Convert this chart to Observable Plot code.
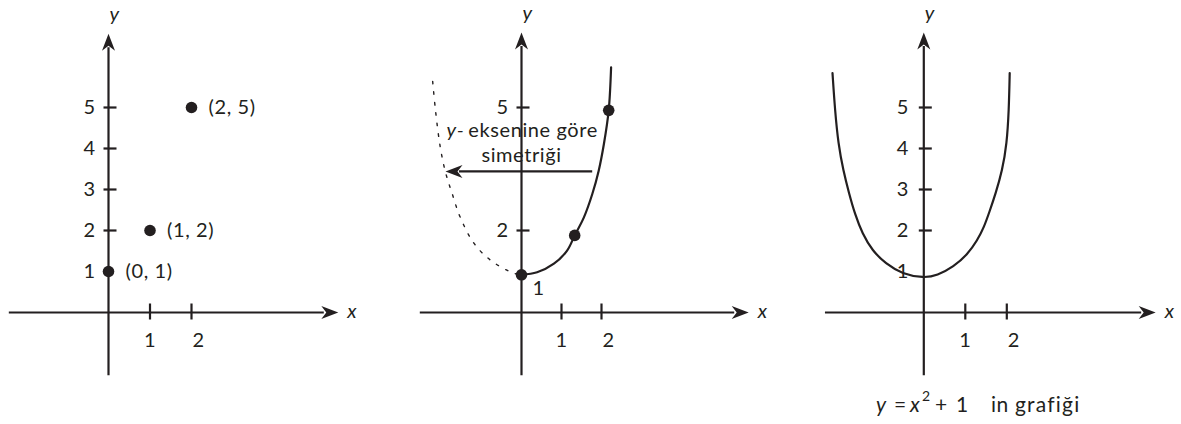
<!DOCTYPE html>
<html>
<head>
<meta charset="utf-8">
<script src="https://cdn.jsdelivr.net/npm/d3@7"></script>
<script src="https://cdn.jsdelivr.net/npm/@observablehq/plot@0.6"></script>
<style>
  html, body { margin: 0; padding: 0; background: #fff; }
  #wrap { position: relative; width: 1181px; height: 424px; overflow: hidden; font-family: Lato, "Open Sans", sans-serif; color: #231f20; }
  .cap { position: absolute; top: 392px; font-size: 21px; line-height: 24px; white-space: pre; letter-spacing: 0.5px; }
  .cap.sup { font-size: 14px; top: 387px; line-height: 18px; }
  .cap.wide { letter-spacing: 1.2px; }
</style>
</head>
<body>
<div id="wrap"></div>
<script>
// ---------- data ----------
const xTickValues = [1, 2];
const xTickLabels = ["1", "2"];

// Panel 1: points
const p1YTicks = [2, 3, 4, 5];
const p1YLabels = [1, 2, 3, 4, 5];
const p1PointX = [0, 1, 2];
const p1PointY = [1, 2, 5];
const p1PointText = ["(0, 1)", "(1, 2)", "(2, 5)"];
const p1AxisX = [-2.39, 5.2];   // shaft extent on x axis
const p1AxisY = [-1.54, 6.46];  // shaft extent on y axis

// Panel 2: right half curve and its mirror
const p2YTicks = [2, 5];
const p2CurveX = [0, 0.39, 0.81, 1.14, 1.33, 1.56, 1.77, 1.93, 2.06, 2.18, 2.24];
const p2CurveY = [0.92, 0.98, 1.19, 1.51, 1.88, 2.32, 2.89, 3.46, 4.11, 4.93, 5.98];
const p2MirrorX = [-0.1, -0.32, -0.78, -1.19, -1.53, -1.73, -1.9, -2.03, -2.15, -2.23];
const p2MirrorY = [0.93, 1.01, 1.28, 1.69, 2.32, 2.89, 3.42, 4.03, 4.93, 5.74];
const p2DotX = [0, 1.33, 2.18];
const p2DotY = [0.92, 1.88, 4.93];
const p2ArrowX = [1.78, -1.55];
const p2ArrowY = 3.44;
const p2NoteLine1 = "eksenine göre";
const p2NoteItalic = "y-";
const p2NoteLine2 = "simetriği";
const p2NoteX = [-1.33, 0];
const p2NoteY = [4.44, 3.83];
const p2AxisX = [-2.53, 5.33];
const p2AxisY = [-1.54, 6.49];

// Panel 3: y = x^2 + 1
const p3YTicks = [2, 3, 4, 5];
const p3YLabels = [1, 2, 3, 4, 5];
const p3CurveX = [-2.20, -2.14, -2.06, -1.94, -1.80, -1.66, -1.48, -1.24, -0.92, -0.52, 0, 0.32, 0.72, 1.05, 1.29, 1.45, 1.58, 1.73, 1.89, 2.00, 2.05, 2.07];
const p3CurveY = [5.84, 4.93, 4.11, 3.46, 2.90, 2.40, 1.92, 1.51, 1.19, 0.94, 0.84, 0.90, 1.12, 1.41, 1.76, 2.08, 2.45, 2.90, 3.46, 4.11, 4.93, 5.84];
const p3AxisX = [-2.37, 5.25];
const p3AxisY = [-1.54, 6.49];

// Caption pieces: [text, style]
const captionParts = [["y", "i"], ["=", ""], ["x", "i"], ["2", "sup"], ["+", ""], ["1", ""], ["in", ""], ["grafiği", "wide"]];
const captionLeft = [876, 894, 910, 922, 935, 956, 991, 1015];

// ---------- drawing ----------
const INK = "#231f20";
const FONT = "Lato, 'Open Sans', sans-serif";
const FS = 20;

const arrowHead = { draw(ctx) { ctx.moveTo(0, -14); ctx.lineTo(-6.5, 3); ctx.lineTo(0, -2); ctx.lineTo(6.5, 3); ctx.closePath(); } };
const yTickSym = { draw(ctx) { ctx.rect(-5, -1.1, 13, 2.2); } };
const xTickSym = { draw(ctx) { ctx.rect(-1.1, -9, 2.2, 16); } };

const zip = (xs, ys) => xs.map((x, i) => ({ x, y: ys[i] }));

function axesMarks(ax, ay, yTicks, yLabels, yLabelDx) {
  return [
    Plot.ruleY([0], { x1: ax[0], x2: ax[1], stroke: INK, strokeWidth: 2.2 }),
    Plot.ruleX([0], { y1: ay[0], y2: ay[1], stroke: INK, strokeWidth: 2.2 }),
    Plot.dot([{ x: ax[1], y: 0 }], { x: "x", y: "y", r: 5, symbol: arrowHead, rotate: 90, fill: INK, stroke: "none" }),
    Plot.dot([{ x: 0, y: ay[1] }], { x: "x", y: "y", r: 5, symbol: arrowHead, rotate: 0, fill: INK, stroke: "none" }),
    Plot.dot(yTicks, { x: 0, y: d => d, r: 5, symbol: yTickSym, fill: INK, stroke: "none" }),
    Plot.dot(xTickValues, { x: d => d, y: 0, r: 5, symbol: xTickSym, fill: INK, stroke: "none" }),
    Plot.text(yLabels, { x: 0, y: d => d, text: d => String(d), dx: yLabelDx, fontSize: FS, fill: INK }),
    Plot.text([xTickValues[0]], { x: d => d, y: 0, text: () => xTickLabels[0], dy: 28, fontSize: FS, fill: INK }),
    Plot.text([xTickValues[1]], { x: d => d, y: 0, text: () => xTickLabels[1], dy: 28, dx: 7, fontSize: FS, fill: INK }),
    Plot.text(["y"], { x: 0, y: ay[1], text: d => d, dx: 6, dy: -33, fontSize: FS, fontStyle: "italic", fill: INK }),
    Plot.text(["x"], { x: ax[1], y: 0, text: d => d, dx: 28, dy: -1, fontSize: FS, fontStyle: "italic", fill: INK })
  ];
}

const wrap = document.getElementById("wrap");
function panel(left, width, ox, ux, uy, marks) {
  const L = ox - left;
  const svg = Plot.plot({
    width, height: 424, margin: 0,
    x: { axis: null, domain: [-L / ux, (width - L) / ux] },
    y: { axis: null, domain: [-(424 - 312) / uy, 312 / uy] },
    style: { fontFamily: FONT, background: "transparent", overflow: "visible", color: INK, letterSpacing: "0.6px" },
    marks
  });
  svg.style.position = "absolute";
  svg.style.left = left + "px";
  svg.style.top = "0px";
  wrap.append(svg);
}

// Panel 1
panel(0, 400, 108, 41.5, 41, [
  ...axesMarks(p1AxisX, p1AxisY, p1YTicks, p1YLabels, -19),
  Plot.dot(zip(p1PointX, p1PointY), { x: "x", y: "y", r: 5.8, fill: INK, stroke: "none" }),
  Plot.text(zip(p1PointX, p1PointY).map((d, i) => ({ ...d, t: p1PointText[i] })), { x: "x", y: "y", text: "t", textAnchor: "start", dx: 17, fontSize: FS, fill: INK })
]);

// Panel 2
panel(400, 390, 521, 40, 41, [
  ...axesMarks(p2AxisX, p2AxisY, p2YTicks, p2YTicks, -19),
  Plot.line(zip(p2MirrorX, p2MirrorY), { x: "x", y: "y", curve: "catmull-rom", stroke: INK, strokeWidth: 1.4, strokeDasharray: "2.5,8" }),
  Plot.line(zip(p2CurveX, p2CurveY), { x: "x", y: "y", curve: "catmull-rom", stroke: INK, strokeWidth: 2.2 }),
  Plot.dot(zip(p2DotX, p2DotY), { x: "x", y: "y", r: 5.8, fill: INK, stroke: "none" }),
  Plot.text([{ x: p2DotX[0], y: p2DotY[0] }], { x: "x", y: "y", text: () => "1", dx: 17, dy: 14, fontSize: FS, fill: INK }),
  Plot.ruleY([p2ArrowY], { x1: p2ArrowX[0], x2: p2ArrowX[1], stroke: INK, strokeWidth: 2.2 }),
  Plot.dot([{ x: p2ArrowX[1], y: p2ArrowY }], { x: "x", y: "y", r: 5, symbol: arrowHead, rotate: -90, fill: INK, stroke: "none" }),
  Plot.text([p2NoteItalic], { x: p2NoteX[0], y: p2NoteY[0], text: d => d, textAnchor: "end", dx: -4, fontSize: FS, fontStyle: "italic", fill: INK }),
  Plot.text([p2NoteLine1], { x: p2NoteX[0], y: p2NoteY[0], text: d => d, textAnchor: "start", fontSize: FS, fill: INK }),
  Plot.text([p2NoteLine2], { x: p2NoteX[1], y: p2NoteY[1], text: d => d, fontSize: FS, fill: INK })
]);

// Panel 3
panel(790, 391, 923.3, 41.5, 41, [
  ...axesMarks(p3AxisX, p3AxisY, p3YTicks, p3YLabels, -21),
  Plot.line(zip(p3CurveX, p3CurveY), { x: "x", y: "y", curve: "basis", stroke: INK, strokeWidth: 2.2 })
]);

// Caption below panel 3
captionParts.forEach(([t, s], i) => {
  const el = document.createElement("div");
  el.className = "cap" + (s === "sup" ? " sup" : "") + (s === "wide" ? " wide" : "");
  if (s === "i") el.style.fontStyle = "italic";
  el.style.left = captionLeft[i] + "px";
  el.textContent = t;
  wrap.append(el);
});
</script>
</body>
</html>
